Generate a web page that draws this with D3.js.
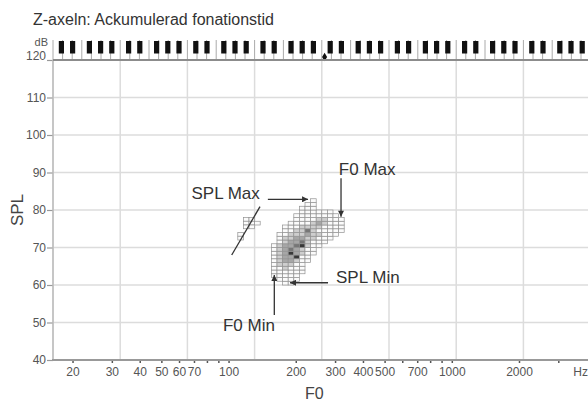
<!DOCTYPE html>
<html>
<head>
<meta charset="utf-8">
<script src="https://cdn.jsdelivr.net/npm/d3@7/dist/d3.min.js"></script>
<style>
  body { margin: 0; background: #fff; }
  svg { display: block; font-family: "Liberation Sans", Arial, sans-serif; }
</style>
</head>
<body>
<svg id="chart" width="588" height="401"></svg>
<script>
// ---- data ----
const titleText = "Z-axeln: Ackumulerad fonationstid";
const splTicks = [40, 50, 60, 70, 80, 90, 100, 110, 120];
const f0Ticks = [20, 30, 40, 50, 60, 70, 80, 90, 100, 200, 300, 400, 500, 600, 700, 800, 900, 1000, 2000, 3000];
const f0Labels = [20, 30, 40, 50, 60, 70, 100, 200, 300, 400, 500, 700, 1000, 2000];

// main cluster: for each SPL row (dB) lowest and highest MIDI note with phonation
const rowSpl  = [60, 61, 62, 63, 64, 65, 66, 67, 68, 69, 70, 71, 72, 73, 74, 75, 76, 77, 78, 79, 80, 81, 82];
const rowLow  = [53, 52, 51, 51, 51, 51, 51, 51, 51, 51, 51, 52, 52, 52, 53, 53, 54, 55, 55, 56, 56, 57, 58];
const rowHigh = [54, 55, 55, 56, 56, 56, 57, 57, 58, 58, 59, 60, 61, 62, 63, 63, 63, 63, 62, 61, 58, 58, 58];

// small separate patch
const patchNote = [46, 47, 46, 47, 48, 46, 47, 45, 45];
const patchSpl  = [77, 77, 76, 76, 76, 75, 75, 73, 72];

// accumulated phonation time (shade level) of the denser cells
const denseNote  = [59, 60, 58, 60, 59, 56, 57, 58, 59, 55, 56, 58, 57, 54, 55, 56, 58, 59, 57,
                    53, 54, 57, 58, 55, 56, 53, 57, 54, 55, 56, 52, 57, 53, 54, 55, 56,
                    52, 56, 53, 55, 54, 52, 56, 53, 55, 54, 52, 53, 54, 55, 52, 55, 53, 54, 52, 53, 54, 53];
const denseSpl   = [77, 77, 76, 76, 76, 75, 75, 75, 75, 74, 74, 74, 74, 73, 73, 73, 73, 73, 73,
                    72, 72, 72, 72, 72, 72, 71, 71, 71, 71, 71, 70, 70, 70, 70, 70, 70,
                    69, 69, 69, 69, 69, 68, 68, 68, 68, 68, 67, 67, 67, 67, 66, 66, 66, 66, 65, 65, 65, 64];
const denseLevel = [1, 1, 1, 1, 2, 1, 1, 1, 1, 1, 1, 1, 3, 1, 1, 1, 1, 1, 2,
                    1, 1, 1, 1, 2, 2, 1, 1, 2, 2, 3, 1, 1, 2, 2, 3, 4,
                    1, 1, 2, 2, 3, 1, 1, 2, 2, 4, 1, 2, 2, 4, 1, 1, 2, 2, 1, 1, 1, 1];

// annotations in data units (Hz, dB)
const labelText = ["SPL Max", "F0 Max", "SPL Min", "F0 Min"];
const labelHz   = [68.2, 312, 303, 94.4];
const labelDb   = [82.9, 89.3, 60.5, 47.7];
const arrowHz0  = [150, 319, 279, 160.3];
const arrowDb0  = [82.85, 88.5, 60.6, 52];
const arrowHz1  = [227, 319, 188.5, 160.3];
const arrowDb1  = [82.85, 78.2, 60.6, 62.7];
const slashHz = [103.3, 138.3];
const slashDb = [68, 80.9];

// ---- layout ----
const W = 588, H = 401;
const C0 = 16.3516;
const hz = m => 440 * Math.pow(2, (m - 69) / 12);

const svg = d3.select("#chart");
const x = d3.scaleLog().domain([C0, C0 * 256]).range([53, 53 + 8 * 67.2]);
const y = d3.scaleLinear().domain([40, 120]).range([360, 60]);

svg.append("defs").append("clipPath").attr("id", "clip")
  .append("rect").attr("x", 0).attr("y", 0).attr("width", W).attr("height", H);

const g = svg.append("g").attr("clip-path", "url(#clip)");

svg.append("text")
  .attr("x", 33).attr("y", 25)
  .style("font-size", "16px").style("fill", "#333")
  .text(titleText);

// grid
const octaves = d3.range(0, 9).map(o => C0 * Math.pow(2, o));
g.selectAll(".vgrid").data(octaves).enter().append("line")
  .attr("x1", d => x(d)).attr("x2", d => x(d))
  .attr("y1", y(120)).attr("y2", y(40))
  .style("stroke", "#dcdcdc").style("stroke-width", 1.5);

g.selectAll(".hgrid").data(splTicks.filter(d => d > 40 && d < 120)).enter().append("line")
  .attr("x1", x(C0)).attr("x2", W)
  .attr("y1", d => y(d)).attr("y2", d => y(d))
  .style("stroke", "#dcdcdc").style("stroke-width", 1.5);

// keyboard
const whiteBounds = [];
octaves.slice(0, 8).forEach((c, o) => {
  const w = (x(c * 2) - x(c)) / 7;
  for (let k = 0; k < 7; k++) whiteBounds.push(x(c) + k * w);
});
g.selectAll(".wkey").data(whiteBounds).enter().append("line")
  .attr("x1", d => d).attr("x2", d => d)
  .attr("y1", 40).attr("y2", 60)
  .style("stroke", "#aaa").style("stroke-width", 1);

const blackNotes = d3.range(12, 108).filter(m => [1, 3, 6, 8, 10].includes(m % 12));
g.selectAll(".bkey").data(blackNotes).enter().append("rect")
  .attr("x", m => x(hz(m)) + 0.2)
  .attr("width", m => x(hz(m + 1)) - x(hz(m)) - 0.4)
  .attr("y", 41).attr("height", 12.5)
  .style("fill", "#111");

// middle C marker
svg.append("path")
  .attr("d", d3.symbol(d3.symbolDiamond, 22)())
  .attr("transform", `translate(${(x(hz(60)) + x(hz(61))) / 2},57)`)
  .style("fill", "#111");

// cells
const levelColor = ["#fbfbfb", "#cecece", "#a6a6a6", "#767676", "#383838"];
const dense = new Map();
denseNote.forEach((n, i) => dense.set(n + "_" + denseSpl[i], denseLevel[i]));

const cells = [];
rowSpl.forEach((s, i) => {
  for (let n = rowLow[i]; n <= rowHigh[i]; n++) cells.push({ n, s, v: dense.get(n + "_" + s) || 0 });
});
patchNote.forEach((n, i) => cells.push({ n, s: patchSpl[i], v: 0 }));

g.selectAll(".cell").data(cells).enter().append("rect")
  .attr("x", d => x(hz(d.n)))
  .attr("y", d => y(d.s + 1))
  .attr("width", d => x(hz(d.n + 1)) - x(hz(d.n)))
  .attr("height", d => y(d.s) - y(d.s + 1))
  .style("fill", d => levelColor[d.v])
  .style("stroke", "#929292").style("stroke-width", 0.7);

// axes
const xAxis = d3.axisBottom(x)
  .tickValues(f0Ticks)
  .tickSize(3).tickPadding(4)
  .tickFormat(d => f0Labels.includes(d) ? d : "");
const xa = svg.append("g").attr("transform", `translate(0,${y(40)})`).call(xAxis);
xa.select(".domain").remove();
xa.selectAll(".tick line").style("stroke", "#555").style("stroke-width", 1.5);
xa.selectAll(".tick text").style("font-size", "12px").style("fill", "#555")
  .style("font-family", "Liberation Sans, Arial, sans-serif");

const yAxis = d3.axisLeft(y).tickValues(splTicks).tickSize(6).tickPadding(1);
const ya = svg.append("g").attr("transform", `translate(${x(C0)},0)`).call(yAxis);
ya.select(".domain").remove();
ya.selectAll(".tick line").style("stroke", "#999").style("stroke-width", 1.2);
ya.selectAll(".tick text").style("font-size", "12px").style("fill", "#555")
  .style("font-family", "Liberation Sans, Arial, sans-serif");
ya.selectAll(".tick text").filter(d => d === 120).attr("dy", "-0.05em");

svg.append("line").attr("x1", x(C0)).attr("x2", x(C0)).attr("y1", y(120)).attr("y2", y(40))
  .style("stroke", "#bbb").style("stroke-width", 1.5);
svg.append("line").attr("x1", x(C0) - 1).attr("x2", W).attr("y1", y(40)).attr("y2", y(40))
  .style("stroke", "#999").style("stroke-width", 2);
svg.append("line").attr("x1", x(C0)).attr("x2", W).attr("y1", y(120)).attr("y2", y(120))
  .style("stroke", "#8c8c8c").style("stroke-width", 2);

svg.append("text").attr("x", 48).attr("y", 46).attr("text-anchor", "end")
  .style("font-size", "11px").style("fill", "#555").text("dB");
svg.append("text").attr("x", W).attr("y", 376).attr("text-anchor", "end")
  .style("font-size", "12px").style("fill", "#555").text("Hz");

svg.append("text").attr("x", 305).attr("y", 399)
  .style("font-size", "16px").style("fill", "#444").text("F0");
svg.append("text").attr("transform", `translate(23,${y(80)}) rotate(-90)`)
  .attr("text-anchor", "middle")
  .style("font-size", "17px").style("fill", "#444").text("SPL");

// annotations
svg.append("defs").append("marker")
  .attr("id", "head").attr("viewBox", "0 0 10 10")
  .attr("refX", 10).attr("refY", 5)
  .attr("markerWidth", 8).attr("markerHeight", 6)
  .attr("markerUnits", "userSpaceOnUse")
  .attr("orient", "auto")
  .append("path").attr("d", "M0,0L10,5L0,10Z").style("fill", "#333");

labelText.forEach((t, i) => {
  svg.append("text").attr("x", x(labelHz[i])).attr("y", y(labelDb[i]))
    .style("font-size", "17px").style("fill", "#333").text(t);
  svg.append("line")
    .attr("x1", x(arrowHz0[i])).attr("y1", y(arrowDb0[i]))
    .attr("x2", x(arrowHz1[i])).attr("y2", y(arrowDb1[i]))
    .attr("marker-end", "url(#head)")
    .style("stroke", "#333").style("stroke-width", 1.3);
});
svg.append("line")
  .attr("x1", x(slashHz[0])).attr("y1", y(slashDb[0]))
  .attr("x2", x(slashHz[1])).attr("y2", y(slashDb[1]))
  .style("stroke", "#333").style("stroke-width", 1.3);
</script>
</body>
</html>
